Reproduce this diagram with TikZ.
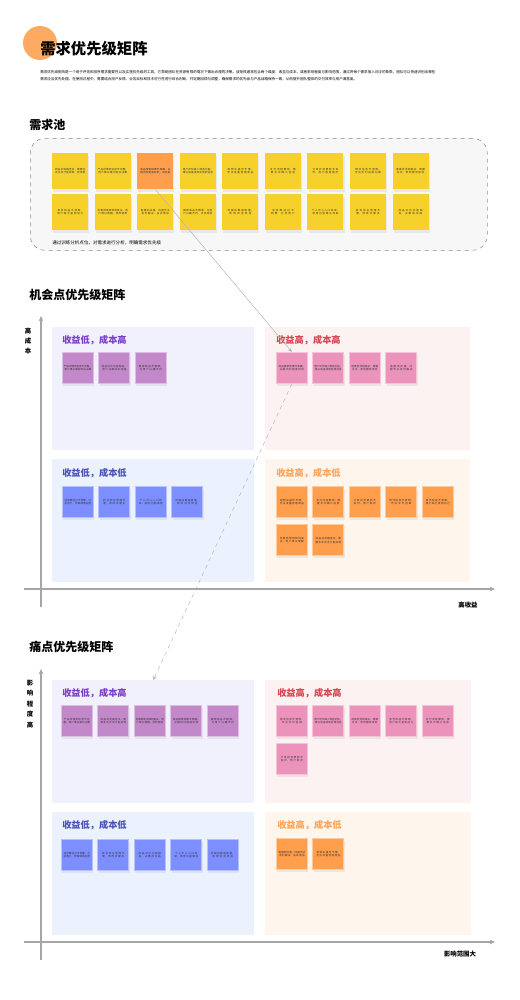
\documentclass[tikz,border=0pt]{standalone}
\usepackage{fontspec}
\setmainfont{Noto Sans CJK SC}
\XeTeXlinebreaklocale "zh"
\XeTeXlinebreakskip = 0pt plus 1pt
\usepackage{tikz}
\usetikzlibrary{arrows.meta, positioning, shadows}
\usepackage{xcolor}

\definecolor{noteyel}{HTML}{F6D12C}
\definecolor{noteora}{HTML}{FF9E4C}
\definecolor{notepur}{HTML}{C388C9}
\definecolor{notepnk}{HTML}{EC93BC}
\definecolor{noteblu}{HTML}{7D8EFF}
\definecolor{quadtl}{HTML}{F0F1FC}
\definecolor{quadtr}{HTML}{FCF2F2}
\definecolor{quadbl}{HTML}{EBF2FD}
\definecolor{quadbr}{HTML}{FEF6EC}
\definecolor{titpur}{HTML}{7A3FC8}
\definecolor{titpnk}{HTML}{D84452}
\definecolor{titblu}{HTML}{4B53B5}
\definecolor{titora}{HTML}{FFA458}
\definecolor{dotora}{HTML}{FFAA62}

\begin{document}
\begin{tikzpicture}[
  x=0.75pt, y=-0.75pt,
  node distance = 3.5pt and 3.5pt,
  note/.style   = {rectangle, anchor=north west, minimum size=23.25pt,
                   inner sep=1pt, text width=21pt, align=center,
                   font=\fontsize{1.9}{2.5}\selectfont, text=black!80,
                   drop shadow={shadow xshift=0.8pt, shadow yshift=-1.8pt,
                   opacity=0.12}},
  pnote/.style  = {note, fill=noteyel, minimum size=27pt, text width=24pt},
  purnote/.style = {note, fill=notepur, draw=notepur!55!white, line width=0.6pt},
  pnknote/.style = {note, fill=notepnk, draw=notepnk!55!white, line width=0.6pt},
  blunote/.style = {note, fill=noteblu, draw=noteblu!55!white, line width=0.6pt},
  oranote/.style = {note, fill=noteora, draw=noteora!55!white, line width=0.6pt},
  quad/.style   = {rectangle, anchor=north west, inner sep=0pt,
                   minimum width=151pt, minimum height=92.25pt},
  qtitle/.style = {anchor=west, inner sep=0pt,
                   font=\fontsize{6.9}{8}\selectfont\bfseries},
  sec/.style    = {anchor=west, inner sep=0pt,
                   font=\fontsize{9}{10}\selectfont\bfseries},
  axlabel/.style = {inner sep=0pt, align=center,
                   font=\fontsize{4.8}{7.8}\selectfont\bfseries},
  axis/.style   = {draw=black!35, line width=0.8pt,
                   -{Stealth[length=4pt, width=3.5pt]}},
  arr/.style    = {-{Stealth[length=3pt, width=2.5pt]}, draw=black!30,
                   line width=0.35pt}
]
\useasboundingbox (0,0) rectangle (520,1000);

% heading
\node[circle, fill=dotora, minimum size=25.5pt, inner sep=0pt] (dot) at (40,43) {};
\node[anchor=west, inner sep=0pt, font=\fontsize{11.5}{13}\selectfont\bfseries]
  (title) at (40,49) {需求优先级矩阵};
\node[anchor=north west, inner sep=0pt, align=left,
  font=\fontsize{2.67}{5.25}\selectfont] (intro) at (40,70)
  {需求优先级矩阵是一个用于评估和排序需求重要性以及实施优先级的工具，它帮助团队在资源有限的情况下做出合理的决策。该矩阵通常包含两个维度：收益与成本，或者影响程度与影响范围，通过将每个需求放入对应的象限，团队可以快速识别出哪些\\
   需求应当优先处理。在使用过程中，需要结合用户反馈、业务目标和技术可行性进行综合判断，并定期回顾与调整，确保需求的优先级与产品战略保持一致，从而提升团队整体的交付效率与用户满意度。};

% demand pool
\node[sec] (pool-t) at (29,125) {需求池};
\node[rectangle, anchor=north west, draw=black!45, dashed, line width=0.4pt,
  fill=black!3, rounded corners=11pt, minimum width=342.75pt,
  minimum height=84pt] (pool) at (30,138) {};
\node[pnote] (p1) at (52,153) {商品浏览路径长，需要多次点击才能找到，效率低};
\node[pnote, right=4.5pt of p1] (p2) {产品详情页信息不完整，用户难以做出购买决策};
\node[pnote, right=4.5pt of p2, fill=noteora] (p3) {商品搜索结果不准确，关键词匹配度较低，体验差};
\node[pnote, right=4.5pt of p3] (p4) {用户评价缺少筛选功能，难以快速找到有用的信息};
\node[pnote, right=4.5pt of p4] (p5) {购物车操作不便，无法批量管理商品};
\node[pnote, right=4.5pt of p5] (p6) {支付流程繁琐，需要多次确认信息};
\node[pnote, right=4.5pt of p6] (p7) {订单状态更新不及时，用户容易焦虑};
\node[pnote, right=4.5pt of p7] (p8) {物流信息不透明，无法实时追踪包裹};
\node[pnote, right=4.5pt of p8] (p9) {退换货流程复杂，周期过长，影响整体体验};
\node[pnote] (p10) at (52,194) {会员权益不清晰，用户缺乏复购动力};
\node[pnote, right=4.5pt of p10] (p11) {优惠券使用规则复杂，用户难以理解，放弃使用};
\node[pnote, right=4.5pt of p11] (p12) {客服响应慢，问题无法及时解决，投诉增加};
\node[pnote, right=4.5pt of p12] (p13) {推荐商品不精准，与用户兴趣不符，点击率低};
\node[pnote, right=4.5pt of p13] (p14) {页面加载速度慢，影响浏览体验};
\node[pnote, right=4.5pt of p14] (p15) {消息推送过于频繁，打扰用户};
\node[pnote, right=4.5pt of p15] (p16) {个人中心入口较深，常用功能难以找到};
\node[pnote, right=4.5pt of p16] (p17) {收货地址管理不便，修改步骤多};
\node[pnote, right=4.5pt of p17] (p18) {商品对比功能缺失，决策成本高};
\node[anchor=west, inner sep=0pt, font=\fontsize{3.4}{4}\selectfont]
  (pool-c) at (52,243) {通过训练分析点位，对需求进行分析，明确需求优先级};

% opportunity matrix
\node[sec] (opp-t) at (29,295) {机会点优先级矩阵};
\node[quad, fill=quadtl] (otl) at (52,327) {};
\node[quad, fill=quadtr, minimum width=153.75pt] (otr) at (265,327) {};
\node[quad, fill=quadbl] (obl) at (52,459) {};
\node[quad, fill=quadbr, minimum width=153.75pt] (obr) at (265,459) {};
\node[qtitle, text=titpur] (otl-t) at (62,340) {收益低，成本高};
\node[qtitle, text=titpnk] (otr-t) at (276,340) {收益高，成本高};
\node[qtitle, text=titblu] (obl-t) at (62,473) {收益低，成本低};
\node[qtitle, text=titora] (obr-t) at (276,473) {收益高，成本低};
% notes
\node[purnote] (otl1) at (62,352) {产品详情页信息不完整，用户难以做出购买决策};
\node[purnote, right=of otl1] (otl2) {商品对比功能缺失，用户决策成本较高};
\node[purnote, right=of otl2] (otl3) {推荐商品不精准，与用户兴趣不符};
\node[pnknote] (otr1) at (276,352) {商品搜索结果不准确，关键词匹配度较低};
\node[pnknote, right=of otr1] (otr2) {用户评价缺少筛选功能，难以快速找到有用信息};
\node[pnknote, right=of otr2] (otr3) {退换货流程复杂，周期过长，影响整体体验};
\node[pnknote, right=of otr3] (otr4) {客服响应慢，问题无法及时解决};
\node[blunote] (obl1) at (62,486) {消息推送过于频繁，打扰用户，导致卸载应用};
\node[blunote, right=of obl1] (obl2) {收货地址管理不便，修改步骤多};
\node[blunote, right=of obl2] (obl3) {个人中心入口较深，常用功能难找};
\node[blunote, right=of obl3] (obl4) {页面加载速度慢，影响浏览体验};
\node[oranote] (obr1) at (276,486) {购物车操作不便，无法批量管理商品};
\node[oranote, right=of obr1] (obr2) {支付流程繁琐，需要多次确认信息};
\node[oranote, right=of obr2] (obr3) {订单状态更新不及时，用户焦虑};
\node[oranote, right=of obr3] (obr4) {物流信息不透明，无法实时追踪};
\node[oranote, right=of obr4] (obr5) {会员权益不清晰，用户缺乏复购动力};
\node[oranote, below=5pt of obr1] (obr6) {优惠券使用规则复杂，用户难以理解};
\node[oranote, right=of obr6] (obr7) {商品浏览路径长，需要多次点击才能找到};
% axes
\coordinate (oy0) at (41,607);
\coordinate (oy1) at (41,316);
\coordinate (ox0) at (24,589);
\coordinate (ox1) at (495,589);
\draw[axis] (oy0) -- (oy1);
\draw[axis] (ox0) -- (ox1);
\node[axlabel] (oy-l) at (28,341) {高\\成\\本};
\node[axlabel] (ox-l) at (468,605) {高收益};

% pain point matrix
\node[sec] (pain-t) at (29,647) {痛点优先级矩阵};
\node[quad, fill=quadtl, minimum width=151.5pt] (ptl) at (52,680) {};
\node[quad, fill=quadtr, minimum width=154.5pt] (ptr) at (265,680) {};
\node[quad, fill=quadbl, minimum width=151.5pt] (pbl) at (52,812) {};
\node[quad, fill=quadbr, minimum width=154.5pt] (pbr) at (265,812) {};
\node[qtitle, text=titpur] (ptl-t) at (62,693) {收益低，成本高};
\node[qtitle, text=titpnk] (ptr-t) at (277,693) {收益高，成本高};
\node[qtitle, text=titblu] (pbl-t) at (62,825) {收益低，成本低};
\node[qtitle, text=titora] (pbr-t) at (277,825) {收益高，成本低};
% notes
\node[purnote] (ptl1) at (61,705) {产品详情页信息不完整，用户难以做出决策};
\node[purnote, right=of ptl1] (ptl2) {商品浏览路径长，需要多次点击才能找到};
\node[purnote, right=of ptl2] (ptl3) {优惠券使用规则复杂，用户难以理解，放弃使用};
\node[purnote, right=of ptl3] (ptl4) {商品搜索结果不准确，关键词匹配度较低};
\node[purnote, right=of ptl4] (ptl5) {推荐商品不精准，与用户兴趣不符};
\node[pnknote] (ptr1) at (276,705) {物流信息不透明，无法实时追踪};
\node[pnknote, right=of ptr1] (ptr2) {用户评价缺少筛选功能，难以快速找到有用信息};
\node[pnknote, right=of ptr2] (ptr3) {退换货流程复杂，周期过长，影响整体体验};
\node[pnknote, right=of ptr3] (ptr4) {会员权益不清晰，用户缺乏复购动力};
\node[pnknote, right=of ptr4] (ptr5) {支付流程繁琐，需要多次确认信息};
\node[pnknote, below=5pt of ptr1] (ptr6) {订单状态更新不及时，用户焦虑};
\node[blunote] (pbl1) at (61,839) {消息推送过于频繁，打扰用户，导致卸载应用};
\node[blunote, right=of pbl1] (pbl2) {收货地址管理不便，修改步骤多};
\node[blunote, right=of pbl2] (pbl3) {商品对比功能缺失，决策成本高};
\node[blunote, right=of pbl3] (pbl4) {个人中心入口较深，常用功能难找};
\node[blunote, right=of pbl4] (pbl5) {页面加载速度慢，影响浏览体验};
\node[oranote] (pbr1) at (276,838) {客服响应慢，问题无法及时解决，投诉增加};
\node[oranote, right=of pbr1] (pbr2) {购物车操作不便，无法批量管理商品};
% axes
\coordinate (py0) at (41,960);
\coordinate (py1) at (41,669);
\coordinate (px0) at (24,942);
\coordinate (px1) at (495,942);
\draw[axis] (py0) -- (py1);
\draw[axis] (px0) -- (px1);
\node[axlabel] (py-l) at (30,704) {影\\响\\程\\度\\高};
\node[axlabel] (px-l) at (460,954) {影响范围大};

% links between the matrices
\draw[arr] (p3.south) -- (otr1.north);
\draw[arr, dashed] (otr1.south) -- (ptl.north);
\end{tikzpicture}
\end{document}
